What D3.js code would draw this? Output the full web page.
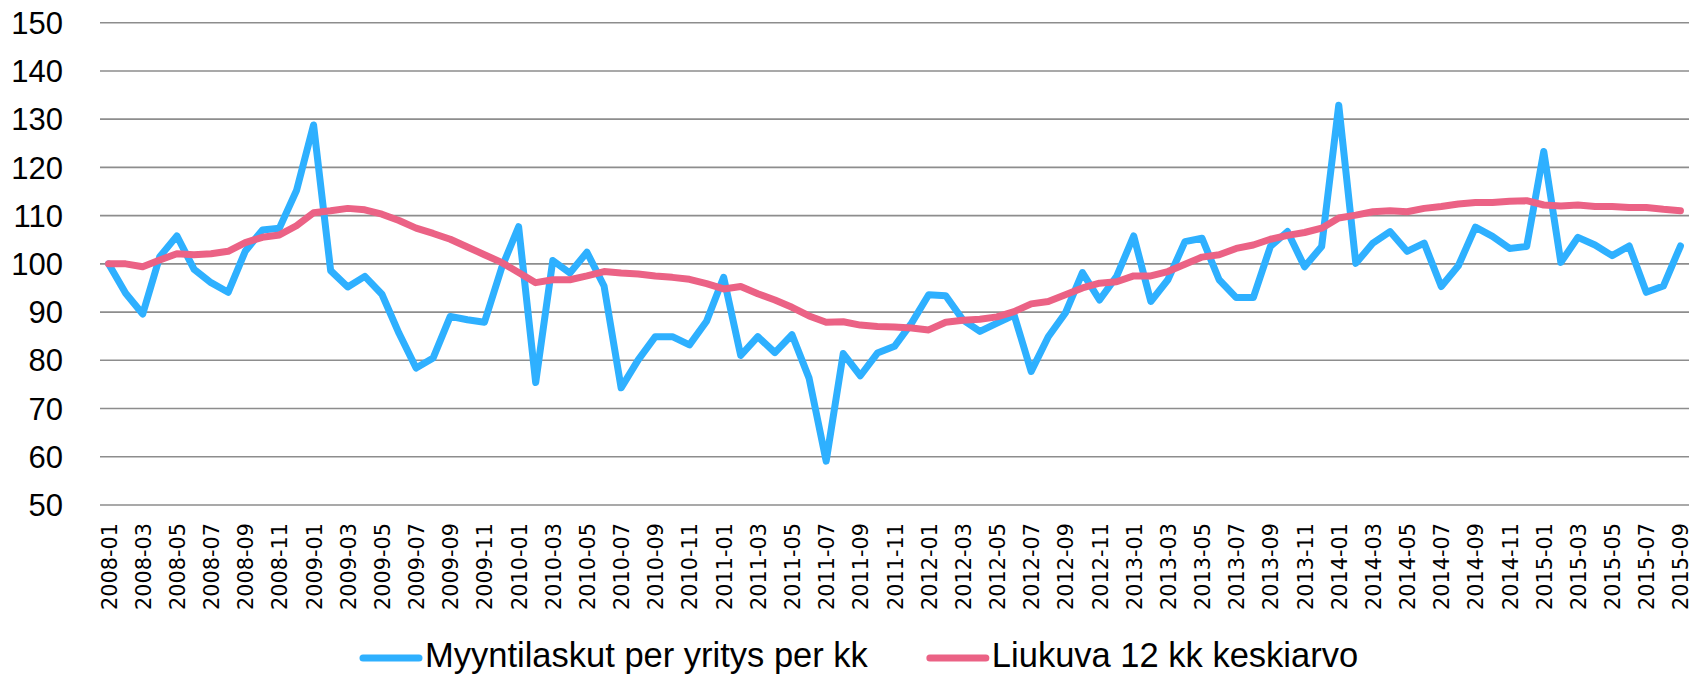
<!DOCTYPE html>
<html>
<head>
<meta charset="utf-8">
<script src="https://cdn.jsdelivr.net/npm/d3@7"></script>
<style>
  body { margin: 0; background: #fff; }
  svg { display: block; }
</style>
</head>
<body>
<svg id="chart" width="1703" height="675"></svg>
<script>
// monthly values, 2008-01 .. 2015-09
const startYear = 2008;
const monthCount = 93;

const invoices = [
  100, 93.9, 89.6, 101.5, 105.8, 98.9, 96.1, 94.1, 102.6, 107, 107.4, 115.2,
  128.8, 98.6, 95.2, 97.4, 93.7, 85.6, 78.4, 80.5, 89.1, 88.4, 87.9, 99.1,
  107.7, 75.4, 100.7, 98.1, 102.4, 95.4, 74.3, 80.1, 84.9, 84.9, 83.2, 88.1,
  97.2, 81.0, 84.9, 81.6, 85.3, 76.3, 59.1, 81.4, 76.8, 81.5, 82.9, 87.7,
  93.6, 93.4, 88.4, 86.0, 87.7, 89.4, 77.7, 84.9, 89.8, 98.2, 92.5, 97.4,
  105.8, 92.2, 96.7, 104.6, 105.3, 96.7, 93.0, 93.0, 103.6, 106.7, 99.4, 103.6,
  132.9, 100.1, 104.3, 106.7, 102.6, 104.3, 95.3, 99.6, 107.6, 105.7, 103.2, 103.6,
  123.3, 100.3, 105.5, 103.9, 101.7, 103.7, 94.1, 95.4, 103.7
];

const movingAvg = [
  100, 100, 99.4, 100.8, 102.1, 101.9, 102.1, 102.6, 104.4, 105.5, 106.0, 107.9,
  110.6, 111.0, 111.5, 111.2, 110.3, 109.0, 107.4, 106.3, 105.1, 103.5, 101.9, 100.3,
  98.2, 96.1, 96.7, 96.7, 97.5, 98.4, 98.1, 97.9, 97.5, 97.2, 96.8, 95.9,
  94.8, 95.3, 93.8, 92.5, 91.0, 89.2, 87.9, 88.0, 87.3, 87.0, 86.9, 86.7,
  86.3, 87.9, 88.3, 88.5, 89.0, 90.1, 91.7, 92.2, 93.6, 95.0, 96.0, 96.3,
  97.5, 97.5, 98.4, 99.9, 101.4, 101.9, 103.2, 103.9, 105.1, 105.9, 106.5, 107.4,
  109.5, 110.1, 110.8, 111.0, 110.8, 111.5, 111.9, 112.4, 112.7, 112.7, 113.0, 113.1,
  112.2, 112.0, 112.2, 111.9, 111.9, 111.7, 111.7, 111.3, 111.0
];

const months = d3.range(monthCount).map((i) => {
  const yr = startYear + Math.floor(i / 12);
  const m = (i % 12) + 1;
  return `${yr}-${m < 10 ? "0" : ""}${m}`;
});
const tickLabels = months.filter((d, i) => i % 2 === 0);
const yTicks = d3.range(50, 151, 10);

const series = [
  { name: "Myyntilaskut per yritys per kk", values: invoices, color: "#2eb0ff" },
  { name: "Liukuva 12 kk keskiarvo", values: movingAvg, color: "#eb6285" },
];

const svg = d3.select("#chart");
const plotLeft = 100, plotRight = 1689, plotTop = 22.7, plotBottom = 505;

const x = d3.scalePoint().domain(months).range([plotLeft, plotRight]).padding(0.5);
const y = d3.scaleLinear().domain([50, 150]).range([plotBottom, plotTop]);

// horizontal gridlines
svg.append("g")
  .selectAll("line")
  .data(yTicks)
  .join("line")
  .attr("x1", plotLeft)
  .attr("x2", plotRight)
  .attr("y1", (d) => y(d))
  .attr("y2", (d) => y(d))
  .attr("stroke", "#8d8d8d")
  .attr("stroke-width", 1.6);

// y labels
svg.append("g")
  .selectAll("text")
  .data(yTicks)
  .join("text")
  .attr("x", 63)
  .attr("y", (d) => y(d))
  .attr("dy", "0.36em")
  .attr("text-anchor", "end")
  .style("font-family", "'Liberation Sans', Arial, sans-serif")
  .style("font-size", "31px")
  .attr("fill", "#000")
  .text((d) => d);

// x axis labels, rotated
const xAxis = d3.axisBottom(x).tickValues(tickLabels).tickSize(0).tickPadding(0);
const gx = svg.append("g")
  .attr("transform", `translate(0,${plotBottom})`)
  .call(xAxis);
gx.select(".domain").remove();
gx.selectAll("text")
  .attr("transform", "rotate(-90)")
  .attr("x", -18)
  .attr("y", 0)
  .attr("dy", "0.36em")
  .attr("text-anchor", "end")
  .style("font-family", "'DejaVu Sans', sans-serif")
  .style("font-size", "20.8px")
  .attr("fill", "#000");

// lines
const line = d3.line()
  .x((d, i) => x(months[i]))
  .y((d) => y(d));

svg.append("g")
  .selectAll("path")
  .data(series)
  .join("path")
  .attr("d", (d) => line(d.values))
  .attr("fill", "none")
  .attr("stroke", (d) => d.color)
  .attr("stroke-width", 7)
  .attr("stroke-linejoin", "round")
  .attr("stroke-linecap", "round");

// legend
const legend = svg.append("g").attr("transform", "translate(0,658)");
let lx = 363;
series.forEach((s) => {
  const g = legend.append("g").attr("transform", `translate(${lx},0)`);
  g.append("line")
    .attr("x1", 0)
    .attr("x2", 56)
    .attr("stroke", s.color)
    .attr("stroke-width", 7)
    .attr("stroke-linecap", "round");
  const t = g.append("text")
    .attr("x", 62)
    .attr("y", 9)
    .style("font-family", "'Liberation Sans', Arial, sans-serif")
    .style("font-size", "34.5px")
    .attr("fill", "#000")
    .text(s.name);
  lx += 62 + t.node().getComputedTextLength() + 62;
});
</script>
</body>
</html>
